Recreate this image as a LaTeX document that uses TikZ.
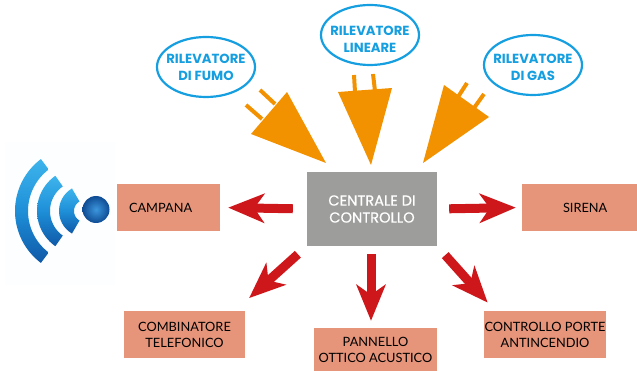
\documentclass[tikz,border=0pt]{standalone}
\usepackage{fontspec}
\setmainfont{Lato}
\newfontfamily\headfont{Poppins}
\newfontfamily\ctrlfont{Poppins}[FakeBold=0.5]
\usetikzlibrary{arrows.meta,shapes.geometric}
\definecolor{plugor}{HTML}{F39200}
\definecolor{arrred}{HTML}{CD171B}
\definecolor{boxsal}{HTML}{E6957A}
\definecolor{ctrlgray}{HTML}{9D9D9C}
\definecolor{detblue}{HTML}{159FE0}
\definecolor{wavetop}{HTML}{3DB4EC}
\definecolor{wavemid}{HTML}{1E8FD8}
\definecolor{wavebot}{HTML}{0F59A8}
\definecolor{dotin}{HTML}{3C96DC}
\definecolor{dotout}{HTML}{0E4C94}
\tikzset{
  sensor/.style={ellipse,draw=detblue,line width=2.2pt,fill=white,inner xsep=-8pt,inner ysep=-5pt,minimum width=98pt,minimum height=60pt,
    align=center,text=detblue,font=\headfont\bfseries\fontsize{13.2}{17}\selectfont},
  outbox/.style={rectangle,fill=boxsal,inner sep=0pt,minimum height=47pt,align=center,text=black,font=\fontsize{12.8}{16}\selectfont},
  ctrlbox/.style={rectangle,fill=ctrlgray,inner sep=0pt,minimum width=130pt,minimum height=74pt,align=center,text=white,font=\ctrlfont\fontsize{14.6}{17}\selectfont},
  redarrow/.style={draw=arrred,line width=9pt,-{Stealth[length=36pt,width=29pt,inset=10pt,fill=arrred]}},
  plugbody/.style={fill=plugor},
  prong/.style={draw=plugor,line width=4pt},
  wave/.style={top color=wavetop,bottom color=wavebot,middle color=wavemid},
}
\begin{document}
\begin{tikzpicture}[x=1pt,y=-1pt]
\useasboundingbox (0,0) rectangle (637,371);
% icon
\fill[white!99!cyan] (5,142) rectangle (115,285);
\shade[wave]
  plot[domain=127:233,samples=34] ({80+65*cos(\x)},{211-65*sin(\x)}) --
  plot[domain=233:127,samples=34] ({80+52*cos(\x)},{211-52*sin(\x)}) -- cycle;
\shade[wave]
  plot[domain=125:235,samples=24] ({80+43*cos(\x)},{211-43*sin(\x)}) --
  plot[domain=235:125,samples=24] ({80+30*cos(\x)},{211-30*sin(\x)}) -- cycle;
\shade[wave]
  plot[domain=120:240,samples=16] ({85+26*cos(\x)},{211-26*sin(\x)}) --
  plot[domain=240:120,samples=16] ({85+11*cos(\x)},{211-11*sin(\x)}) -- cycle;
\shade[inner color=dotin,outer color=dotout] (96,209.5) circle (13.5pt);
% nodes
\node[ctrlbox] (ctrl) at (372,209) {CENTRALE DI\\CONTROLLO};
\node[outbox,minimum width=103pt] (campana) at (168.5,207.5) {\makebox[103pt][l]{\hspace*{12pt}CAMPANA}};
\node[outbox,minimum width=115pt] (sirena) at (579.5,207.5) {\makebox[115pt][l]{\hspace*{41pt}SIRENA}};
\node[outbox,minimum width=121pt] (comb) at (184.5,334.5) {COMBINATORE\\TELEFONICO};
\node[outbox,minimum width=123pt,minimum height=43pt] (pann) at (375.5,349.5) {PANNELLO\\OTTICO ACUSTICO};
\node[outbox,minimum width=122pt] (porte) at (545,334.5) {CONTROLLO PORTE\\ANTINCENDIO};
\node[sensor] (fumo) at (206,67) {RILEVATORE\\DI FUMO};
\node[sensor] (lin) at (370,35) {\rule{0pt}{17.5pt}RILEVATORE\\LINEARE};
\node[sensor] (gas) at (533,65) {\rule{0pt}{13.5pt}RILEVATORE\\DI GAS};
% plugs
\draw[prong] (260,90) -- (275,104);
\draw[prong] (246,105) -- (262,119);
\fill[plugbody] (287,92) -- (251,134) -- (326,163) -- cycle;
\draw[prong] (354,75) -- (355,92);
\draw[prong] (373,74) -- (375,91);
\fill[plugbody] (338,92) -- (392,88) -- (371,165) -- cycle;
\draw[prong] (467,83) -- (458,97);
\draw[prong] (484,94) -- (474,108);
\fill[plugbody] (444,85) -- (489,117) -- (423,163) -- cycle;
% arrows
\draw[redarrow,shorten <=14pt,shorten >=8pt] (ctrl.west) -- (campana.east);
\draw[redarrow,shorten <=12pt,shorten >=6pt] (ctrl.east) -- (sirena.west);
\draw[redarrow,shorten <=8pt,shorten >=7pt] ([xshift=-1pt]ctrl.south) -- ([xshift=-4.5pt]pann.north);
\draw[redarrow,shorten <=12pt,shorten >=19pt] (ctrl.south west) -- ([xshift=50.5pt]comb.north);
\draw[redarrow,shorten <=12pt,shorten >=11pt] (ctrl.south east) -- ([xshift=-50pt]porte.north);
\end{tikzpicture}
\end{document}
